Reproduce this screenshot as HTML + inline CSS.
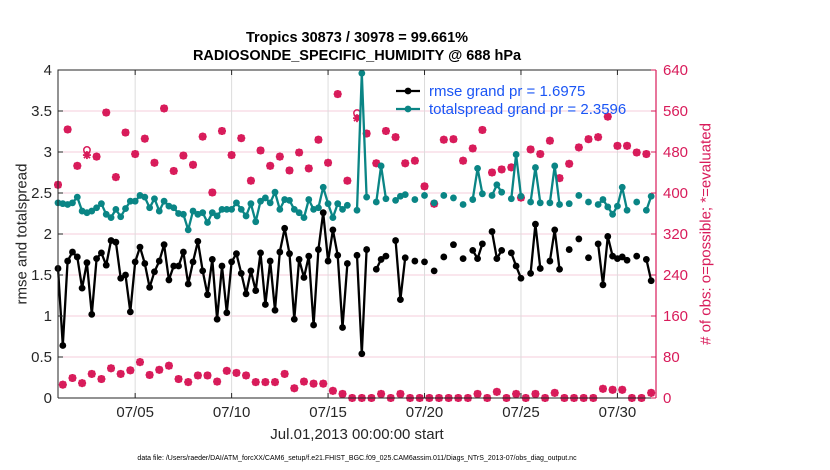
<!DOCTYPE html>
<html><head><meta charset="utf-8"><style>
body{margin:0;background:#fff;}
svg{display:block;font-family:"Liberation Sans",sans-serif;}
</style></head><body>
<svg id="chart" width="830" height="470" xmlns="http://www.w3.org/2000/svg"></svg>
<script>
const rmse=[1.58,0.64,1.67,1.78,1.72,1.34,1.65,1.02,1.70,1.77,1.62,1.92,1.90,1.46,1.50,1.05,1.66,1.84,1.64,1.35,1.54,1.67,1.87,1.44,1.61,1.61,1.78,1.39,1.66,1.91,1.55,1.26,1.69,0.96,1.61,1.04,1.66,1.76,1.52,1.27,1.55,1.31,1.77,1.14,1.67,1.07,1.78,2.07,1.76,0.96,1.69,1.47,1.73,0.89,1.81,2.26,1.67,2.05,1.74,0.86,1.64,null,1.74,0.54,1.81,null,1.57,1.69,1.73,null,1.92,1.20,1.71,null,1.67,null,1.66,null,1.55,null,1.72,null,1.87,null,1.70,null,1.80,1.70,1.88,null,2.03,1.70,1.80,null,1.77,1.61,1.46,null,1.52,2.12,1.58,null,1.67,2.05,1.57,null,1.81,null,1.94,null,1.71,null,1.88,1.38,1.97,1.73,1.70,1.72,1.68,null,1.73,null,1.69,1.43];
const spread=[2.38,2.37,2.36,2.38,2.45,2.28,2.26,2.28,2.32,2.37,2.24,2.20,2.30,2.21,2.31,2.40,2.40,2.47,2.45,2.32,2.43,2.28,2.40,2.34,2.32,2.25,2.24,2.05,2.28,2.24,2.26,2.14,2.26,2.22,2.30,2.30,2.30,2.38,2.30,2.22,2.37,2.15,2.40,2.44,2.38,2.51,2.30,2.42,2.41,2.30,2.26,2.20,2.42,2.30,2.32,2.57,2.37,2.20,2.37,2.30,2.35,null,2.29,3.96,2.45,null,2.39,2.83,2.43,null,2.41,2.46,2.48,null,2.42,null,2.47,null,2.38,null,2.47,null,2.44,null,2.36,null,2.42,2.80,2.49,null,2.47,2.60,2.51,null,2.43,2.97,2.46,null,2.39,2.81,2.38,null,2.38,2.83,2.36,null,2.37,null,2.47,null,2.39,null,2.36,2.42,2.33,2.24,2.34,2.57,2.29,null,2.39,null,2.29,2.46];
const evaluated=[416,26,524,39,453,29,474,47,471,37,557,58,431,47,518,54,476,70,506,45,459,55,565,63,443,37,473,31,455,44,510,44,401,32,521,53,474,49,507,44,424,31,483,31,453,31,471,47,444,19,479,32,448,28,504,28,459,14,593,8,424,0,546,0,516,0,458,8,521,0,509,8,458,0,463,0,413,0,379,0,504,0,505,0,463,0,487,8,523,0,440,12,446,0,450,8,391,0,485,8,476,0,502,10,429,0,457,0,489,0,505,0,509,18,549,16,492,16,492,0,479,0,476,10];
const possible=evaluated.map((v,i)=>i===6?484:(i===62?556:v));
const leftTicks=[0,0.5,1,1.5,2,2.5,3,3.5,4];
const leftTickLabels=["0","0.5","1","1.5","2","2.5","3","3.5","4"];
const rightTicks=[0,80,160,240,320,400,480,560,640];
const dateTicks=[4,9,14,19,24,29];
const dateLabels=["07/05","07/10","07/15","07/20","07/25","07/30"];

const NS="http://www.w3.org/2000/svg";
const svg=document.getElementById('chart');
const X0=58,X1=656,Y0=70,Y1=398;
const xs=d=>X0+d/31*(X1-X0);
const yl=v=>Y1-v/4*(Y1-Y0);
const yr=v=>Y1-v/640*(Y1-Y0);
const MAG="#d81b5a",TEAL="#0a8585";
function el(t,a,p){const e=document.createElementNS(NS,t);for(const k in a)e.setAttribute(k,a[k]);(p||svg).appendChild(e);return e;}

leftTicks.forEach((v,i)=>{
  if(i>0&&i<leftTicks.length-1){const g=el('line',{x1:X0,x2:X1,y1:yl(v),y2:yl(v),stroke:"#f4cddb","stroke-width":1});
  
  }
});
dateTicks.forEach(d=>{const g=el('line',{x1:xs(d),x2:xs(d),y1:Y0,y2:Y1,stroke:"#dcdcdc","stroke-width":1});
  
  });

function star(cx,cy,name){
  const g=el('g',{stroke:MAG,"stroke-width":1.8,fill:"none"});
  
  
  const r=4;
  el('line',{x1:cx-r,x2:cx+r,y1:cy,y2:cy},g);
  el('line',{x1:cx,x2:cx,y1:cy-r,y2:cy+r},g);
  el('line',{x1:cx-3,x2:cx+3,y1:cy-3,y2:cy+3},g);
  el('line',{x1:cx-3,x2:cx+3,y1:cy+3,y2:cy-3},g);
  el('circle',{cx:cx,cy:cy,r:2.2,fill:MAG,stroke:"none"},g);
}
possible.forEach((v,i)=>{const c=el('circle',{cx:xs(i*0.25),cy:yr(v),r:3.2,fill:"none",stroke:MAG,"stroke-width":1.5});
  
  });
evaluated.forEach((v,i)=>star(xs(i*0.25),yr(v),'evaluated-obs-marker'));

function series(arr,color,name){
  let d="",pen=false;
  arr.forEach((v,i)=>{if(v===null){pen=false;return;}d+=(pen?"L":"M")+xs(i*0.25).toFixed(1)+" "+yl(v).toFixed(1);pen=true;});
  const p=el('path',{d:d,fill:"none",stroke:color,"stroke-width":2.3,"stroke-linejoin":"round"});
  
  
  arr.forEach((v,i)=>{if(v===null)return;const c=el('circle',{cx:xs(i*0.25),cy:yl(v),r:3.4,fill:color});
    
    });
}
series(spread,TEAL,'totalspread');
series(rmse,"#000",'rmse');

const bx=el('path',{d:`M${X0} ${Y1}V${Y0}H${X1}M${X0} ${Y1}H${X1}`,fill:"none",stroke:"#262626","stroke-width":1});


const ra=el('line',{x1:X1,x2:X1,y1:Y0,y2:Y1,stroke:MAG,"stroke-width":1.2});



leftTicks.forEach((v,i)=>{
  el('line',{x1:X0,x2:X0+5,y1:yl(v),y2:yl(v),stroke:"#262626"});
  const t=el('text',{x:X0-6,y:yl(v)+5,"text-anchor":"end","font-size":15,fill:"#262626"});
  t.textContent=leftTickLabels[i];
  
  
});
rightTicks.forEach(v=>{
  el('line',{x1:X1-5,x2:X1,y1:yr(v),y2:yr(v),stroke:MAG});
  const t=el('text',{x:X1+7,y:yr(v)+5,"font-size":15,fill:MAG});
  t.textContent=String(v);
  
  
});
dateTicks.forEach((d,i)=>{
  el('line',{x1:xs(d),x2:xs(d),y1:Y1,y2:Y1-5,stroke:"#262626"});
  el('line',{x1:xs(d),x2:xs(d),y1:Y0,y2:Y0+5,stroke:"#262626"});
  const t=el('text',{x:xs(d),y:417,"text-anchor":"middle","font-size":15,fill:"#262626"});
  t.textContent=dateLabels[i];
  
  
});

[["rmse grand pr = 1.6975","#000",91],["totalspread grand pr = 2.3596",TEAL,109]].forEach(([txt,c,y])=>{
  const g=el('g',{});
  
  
  el('line',{x1:396,x2:420,y1:y,y2:y,stroke:c,"stroke-width":2.3},g);
  el('circle',{cx:408,cy:y,r:3.4,fill:c},g);
  const t=el('text',{x:429,y:y+5,"font-size":15,fill:"#1a55f5"},g);
  t.textContent=txt;
});
</script>
<div style="position:absolute;left:0;top:0;width:830px;height:470px;pointer-events:none;font-family:'Liberation Sans',sans-serif;">
  <div style="position:absolute;left:0;width:714px;top:30px;text-align:center;font-weight:bold;font-size:14.5px;color:#000;">Tropics 30873 / 30978 = 99.661%</div>
  <div style="position:absolute;left:0;width:714px;top:48px;text-align:center;font-weight:bold;font-size:14.5px;color:#000;">RADIOSONDE_SPECIFIC_HUMIDITY @ 688 hPa</div>
  <div style="position:absolute;left:0;width:714px;top:426px;text-align:center;font-size:15px;color:#262626;">Jul.01,2013 00:00:00 start</div>
  <div style="position:absolute;left:0;width:714px;top:455px;text-align:center;font-size:7px;color:#000;">data file: /Users/raeder/DAI/ATM_forcXX/CAM6_setup/f.e21.FHIST_BGC.f09_025.CAM6assim.011/Diags_NTrS_2013-07/obs_diag_output.nc</div>
  <div style="position:absolute;left:22px;top:234px;width:0;height:0;"><div style="position:absolute;transform:translate(-50%,-50%) rotate(-90deg);white-space:nowrap;font-size:15px;color:#262626;">rmse and totalspread</div></div>
  <div style="position:absolute;left:706px;top:234px;width:0;height:0;"><div style="position:absolute;transform:translate(-50%,-50%) rotate(-90deg);white-space:nowrap;font-size:15px;color:#d81b5a;"># of obs: o=possible; *=evaluated</div></div>
</div>
</body></html>
